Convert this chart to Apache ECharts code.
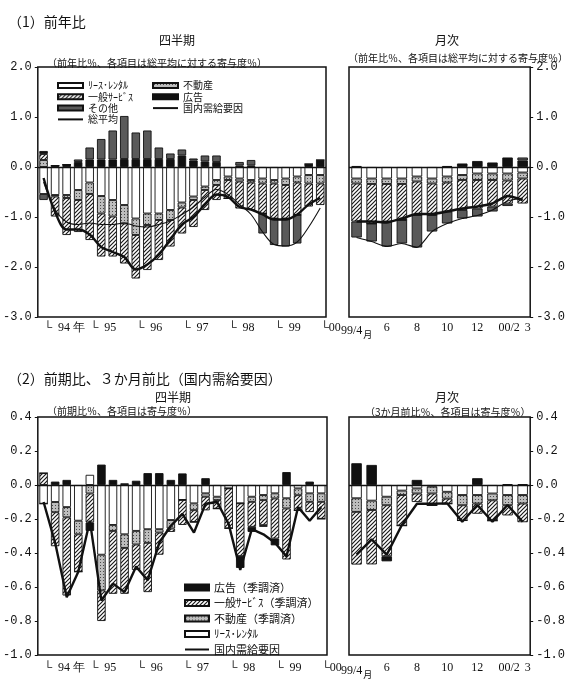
<!DOCTYPE html>
<html><head><meta charset="utf-8">
<style>html,body{margin:0;padding:0;background:#fff}#c{width:568px;height:681px}</style>
<script src="https://cdn.jsdelivr.net/npm/echarts/dist/echarts.min.js"></script>
</head><body><div id="c"></div><script>
// ---------- categories & tick labels ----------
const quarters = ['94/1','94/2','94/3','94/4','95/1','95/2','95/3','95/4','96/1','96/2','96/3','96/4','97/1','97/2','97/3','97/4','98/1','98/2','98/3','98/4','99/1','99/2','99/3','99/4','00/1'];
const months = ['99/4','99/5','99/6','99/7','99/8','99/9','99/10','99/11','99/12','00/1','00/2','00/3'];
const quarterTickLabels = ['└  94 年','','','','└  95','','','','└  96','','','','└  97','','','','└  98','','','','└  99','','','','└00'];
const monthTickLabels = ['{a|99/4}{m|月}','','6','','8','','10','','12','','{q|00/2}','{r|3}'];

// ---------- (1) year-on-year, quarterly ----------
const yoyQLease   = [-0.54,-0.56,-0.56,-0.46,-0.31,-0.58,-0.66,-0.76,-1.03,-0.93,-0.93,-0.86,-0.71,-0.59,-0.39,-0.26,-0.19,-0.23,-0.26,-0.23,-0.26,-0.23,-0.19,-0.16,-0.16];
const yoyQRealEst = [0.14,-0.03,-0.06,-0.20,-0.23,-0.35,-0.33,-0.37,-0.33,-0.23,-0.13,-0.20,-0.10,-0.07,-0.07,-0.10,-0.07,-0.06,-0.05,-0.10,-0.07,-0.13,-0.12,-0.17,-0.17];
const yoyQGeneral = [0.12,-0.40,-0.74,-0.64,-0.92,-0.86,-0.80,-0.80,-0.87,-0.90,-0.80,-0.53,-0.52,-0.54,-0.40,-0.30,-0.37,-0.54,-0.55,-0.60,-0.70,-0.67,-0.65,-0.46,-0.43];
const yoyQAd      = [0.06,0.03,0.05,0.10,0.15,0.15,0.15,0.16,0.16,0.16,0.16,0.16,0.23,0.13,0.11,0.10,0,0.03,0.03,0,0,0,0,0.06,0.14];
const yoyQOther   = [-0.12,0,0,0.05,0.24,0.41,0.58,0.86,0.53,0.57,0.23,0.11,0.12,0.04,0.12,0.13,0,0.07,0.11,-0.40,-0.53,-0.56,-0.57,0,0];
const yoyQDomestic= [-0.22,-0.90,-1.25,-1.25,-1.35,-1.60,-1.70,-1.80,-2.05,-1.95,-1.75,-1.45,-1.15,-1.00,-0.75,-0.55,-0.60,-0.80,-0.85,-0.95,-1.05,-1.05,-0.95,-0.75,-0.62];
const yoyQTotal   = [-0.30,-0.85,-1.10,-1.15,-1.12,-1.15,-1.15,-1.12,-1.18,-1.20,-1.15,-1.08,-0.95,-0.80,-0.60,-0.45,-0.55,-0.75,-0.95,-1.30,-1.55,-1.58,-1.50,-1.20,-0.82];

// ---------- (1) year-on-year, monthly ----------
const yoyMLease   = [-0.23,-0.23,-0.23,-0.23,-0.19,-0.23,-0.19,-0.16,-0.13,-0.13,-0.13,-0.11];
const yoyMRealEst = [-0.10,-0.11,-0.11,-0.11,-0.10,-0.10,-0.12,-0.10,-0.13,-0.13,-0.14,-0.12];
const yoyMGeneral = [-0.76,-0.79,-0.75,-0.72,-0.67,-0.63,-0.58,-0.60,-0.57,-0.53,-0.46,-0.50];
const yoyMAd      = [0.02,0,0,0,0,0,0.02,0.07,0.12,0.09,0.19,0.13];
const yoyMOther   = [-0.32,-0.36,-0.50,-0.47,-0.65,-0.33,-0.24,-0.17,-0.16,-0.10,-0.05,0.06];
const yoyMDomestic= [-1.09,-1.09,-1.11,-1.03,-0.94,-0.94,-0.89,-0.83,-0.79,-0.73,-0.58,-0.66];
const yoyMTotal   = [-1.41,-1.49,-1.59,-1.53,-1.61,-1.29,-1.13,-1.03,-0.97,-0.86,-0.68,-0.62];

// ---------- (2) q/q, quarterly ----------
const qoqLease    = [-0.11,-0.10,-0.13,-0.21,0.06,-0.41,-0.235,-0.29,-0.27,-0.26,-0.26,-0.206,-0.088,-0.108,-0.049,-0.069,-0.02,-0.108,-0.069,-0.059,-0.049,-0.078,-0.02,-0.049,-0.049];
const qoqRealEst  = [0,-0.06,-0.06,-0.08,-0.05,-0.21,-0.035,-0.08,-0.08,-0.08,-0.02,-0.05,0,-0.04,-0.02,-0.02,0,0,-0.03,-0.03,-0.03,-0.06,-0.04,-0.05,-0.05];
const qoqGeneral  = [0.07,-0.20,-0.46,-0.22,-0.17,-0.18,-0.37,-0.27,-0.15,-0.29,-0.13,-0.02,-0.147,-0.07,-0.08,-0.05,-0.235,-0.31,-0.147,-0.147,-0.236,-0.30,-0.09,-0.06,-0.10];
const qoqAd       = [0,0.02,0.03,0,-0.05,0.12,0.03,0.01,0.025,0.07,0.07,0.03,0.068,0,0.04,0,0,-0.07,-0.03,-0.01,-0.04,0.076,0,0.02,0];
const qoqDomestic = [-0.10,-0.34,-0.66,-0.51,-0.21,-0.68,-0.58,-0.63,-0.48,-0.56,-0.34,-0.24,-0.17,-0.28,-0.11,-0.10,-0.23,-0.50,-0.26,-0.29,-0.34,-0.42,-0.13,-0.21,-0.13];

// ---------- (2) 3-month, monthly ----------
const m3Lease     = [-0.078,-0.092,-0.069,-0.033,-0.02,-0.01,-0.04,-0.059,-0.059,-0.05,-0.059,-0.059];
const m3RealEst   = [-0.08,-0.055,-0.05,-0.026,-0.03,-0.04,-0.04,-0.06,-0.05,-0.04,-0.06,-0.05];
const m3General   = [-0.31,-0.32,-0.30,-0.18,-0.05,-0.07,-0.03,-0.09,-0.06,-0.12,-0.06,-0.11];
const m3Ad        = [0.128,0.118,-0.03,0,0.03,0,0,0,0.04,0,0.005,0.005];
const m3Domestic  = [-0.41,-0.32,-0.41,-0.235,-0.11,-0.11,-0.108,-0.216,-0.118,-0.216,-0.118,-0.216];

// ---------- styling helpers ----------
function makeHatch(){
  const c=document.createElement('canvas'); c.width=4; c.height=4;
  const g=c.getContext('2d'); g.fillStyle='#fff'; g.fillRect(0,0,4,4);
  g.strokeStyle='#1a1a1a'; g.lineWidth=1.2; g.beginPath();
  g.moveTo(-1,5); g.lineTo(5,-1); g.moveTo(-1,1); g.lineTo(1,-1); g.moveTo(3,5); g.lineTo(5,3); g.stroke();
  return c;
}
function makeDots(){
  const c=document.createElement('canvas'); c.width=3; c.height=3;
  const g=c.getContext('2d'); g.fillStyle='#bdbdbd'; g.fillRect(0,0,3,3);
  g.fillStyle='#4a4a4a'; g.fillRect(1,1,1,1);
  return c;
}
const HATCH={image:makeHatch(),repeat:'repeat'};
const DOTS={image:makeDots(),repeat:'repeat'};
const BLACK='#111', DARK='#5a5a5a', WHITE='#fff';
const FONT='"Noto Sans CJK JP", sans-serif';

const N={lease:'ﾘｰｽ･ﾚﾝﾀﾙ',re:'不動産',gen:'一般ｻｰﾋﾞｽ',ad:'広告',other:'その他',dom:'国内需給要因',tot:'総平均',
  adS:'広告（季調済）',genS:'一般ｻｰﾋﾞｽ（季調済）',reS:'不動産（季調済）'};

function bar(name,data,i,color,w){
  return {type:'bar',name,data,xAxisIndex:i,yAxisIndex:i,stack:'s'+i,barWidth:w,
    itemStyle:{color,borderColor:'#111',borderWidth:0.9},emphasis:{disabled:true},z:2,animation:false};
}
function line(name,data,i,width,smooth,zero){
  const s={type:'line',name,data,xAxisIndex:i,yAxisIndex:i,symbol:'none',smooth,
    lineStyle:{color:'#111',width},itemStyle:{color:'#111'},emphasis:{disabled:true},z:5,animation:false};
  if(zero) s.markLine={silent:true,symbol:['none','none'],label:{show:false},animation:false,
    lineStyle:{color:'#111',width:1.4,type:'solid'},data:[{yAxis:0}]};
  return s;
}
const grids=[
  {left:37,top:67,width:289,height:250},
  {left:349,top:67,width:185,height:250},
  {left:37,top:417,width:290,height:238},
  {left:349,top:417,width:185,height:238}
].map(g=>Object.assign(g,{show:true,borderColor:'#111',borderWidth:1.5,backgroundColor:'transparent'}));

function xAx(i,data,labels,align,margin){
  const serif='"Liberation Serif", serif';
  return {type:'category',gridIndex:i,data,axisLine:{show:false},axisTick:{show:false},splitLine:{show:false},
    axisLabel:{interval:0,align,margin,color:'#111',fontFamily:serif,fontSize:12,
      formatter:(v,idx)=>labels[idx]||'',
      rich:{a:{fontFamily:serif,fontSize:12,color:'#111'},
            m:{fontFamily:FONT,fontSize:9,color:'#111',padding:[8,0,0,1]},
            q:{fontFamily:serif,fontSize:12,color:'#111',padding:[0,0,0,3]},
            r:{fontFamily:serif,fontSize:12,color:'#111',padding:[0,0,0,10]}}}};
}
function yAx(i,min,max,interval,pos){
  return {type:'value',gridIndex:i,min,max,interval,position:pos,axisLine:{show:false},
    axisTick:{show:true,length:3,lineStyle:{color:'#111'}},splitLine:{show:false},
    axisLabel:{formatter:v=>v.toFixed(1),fontFamily:'"Liberation Mono", monospace',fontSize:12,color:'#111',margin:6}};
}
function t(text,left,top,size){return {text,left,top,textStyle:{fontFamily:FONT,fontSize:size,fontWeight:'normal',color:'#111'}};}
const noSym={opacity:0};

const option={
  backgroundColor:'#fff',
  animation:false,
  textStyle:{fontFamily:FONT},
  title:[
    t('（1）前年比',3,10,14),
    t('四半期',154,29,12),
    t('（前年比％、各項目は総平均に対する寄与度％）',42,53,10),
    t('月次',430,29,12),
    t('（前年比％、各項目は総平均に対する寄与度％）',343,48,10),
    t('（2）前期比、３か月前比（国内需給要因）',3,367,14),
    t('四半期',150,386,12),
    t('（前期比％、各項目は寄与度％）',42,401,10),
    t('月次',430,386,12),
    t('（3か月前比％、各項目は寄与度％）',360,402,10)
  ],
  grid:grids,
  xAxis:[
    xAx(0,quarters,quarterTickLabels,'left',5),
    xAx(1,months,monthTickLabels,'center',5),
    xAx(2,quarters,quarterTickLabels,'left',7),
    xAx(3,months,monthTickLabels,'center',7)
  ],
  yAxis:[
    yAx(0,-3,2,1,'left'),
    yAx(1,-3,2,1,'right'),
    yAx(2,-1,0.4,0.2,'left'),
    yAx(3,-1,0.4,0.2,'right')
  ],
  legend:[
    {left:52,top:75,orient:'vertical',itemWidth:25,itemHeight:5,itemGap:0.3,selectedMode:false,
     textStyle:{fontSize:10,lineHeight:11,fontFamily:FONT,color:'#111'},
     data:[{name:N.lease,icon:'rect'},{name:N.gen,icon:'rect'},{name:N.other,icon:'rect'},{name:N.tot,itemStyle:noSym}]},
    {left:147,top:75,orient:'vertical',itemWidth:25,itemHeight:5,itemGap:0.3,selectedMode:false,
     textStyle:{fontSize:10,lineHeight:11,fontFamily:FONT,color:'#111'},
     data:[{name:N.re,icon:'rect'},{name:N.ad,icon:'rect'},{name:N.dom,itemStyle:noSym}]},
    {left:179,top:576,orient:'vertical',itemWidth:24,itemHeight:6,itemGap:2.5,selectedMode:false,
     textStyle:{fontSize:11,lineHeight:13,fontFamily:FONT,color:'#111'},
     data:[{name:N.adS,icon:'rect'},{name:N.genS,icon:'rect'},{name:N.reS,icon:'rect'},{name:N.lease,icon:'rect'},{name:N.dom,itemStyle:noSym}]}
  ],
  series:[
    bar(N.lease,yoyQLease,0,WHITE,8.5),
    bar(N.re,yoyQRealEst,0,DOTS,8.5),
    bar(N.gen,yoyQGeneral,0,HATCH,8.5),
    bar(N.ad,yoyQAd,0,BLACK,8.5),
    bar(N.other,yoyQOther,0,DARK,8.5),
    line(N.dom,yoyQDomestic,0,2.4,0.35,true),
    line(N.tot,yoyQTotal,0,1.1,0.35,false),

    bar(N.lease,yoyMLease,1,WHITE,10.5),
    bar(N.re,yoyMRealEst,1,DOTS,10.5),
    bar(N.gen,yoyMGeneral,1,HATCH,10.5),
    bar(N.ad,yoyMAd,1,BLACK,10.5),
    bar(N.other,yoyMOther,1,DARK,10.5),
    line(N.dom,yoyMDomestic,1,2.4,0.2,true),
    line(N.tot,yoyMTotal,1,1.1,0.2,false),

    bar(N.lease,qoqLease,2,WHITE,8.5),
    bar(N.reS,qoqRealEst,2,DOTS,8.5),
    bar(N.genS,qoqGeneral,2,HATCH,8.5),
    bar(N.adS,qoqAd,2,BLACK,8.5),
    line(N.dom,qoqDomestic,2,2.4,false,true),

    bar(N.lease,m3Lease,3,WHITE,10.5),
    bar(N.reS,m3RealEst,3,DOTS,10.5),
    bar(N.genS,m3General,3,HATCH,10.5),
    bar(N.adS,m3Ad,3,BLACK,10.5),
    line(N.dom,m3Domestic,3,2.4,false,true)
  ]
};
const chart=echarts.init(document.getElementById('c'),null,{renderer:'canvas'});
chart.setOption(option);
</script></body></html>
